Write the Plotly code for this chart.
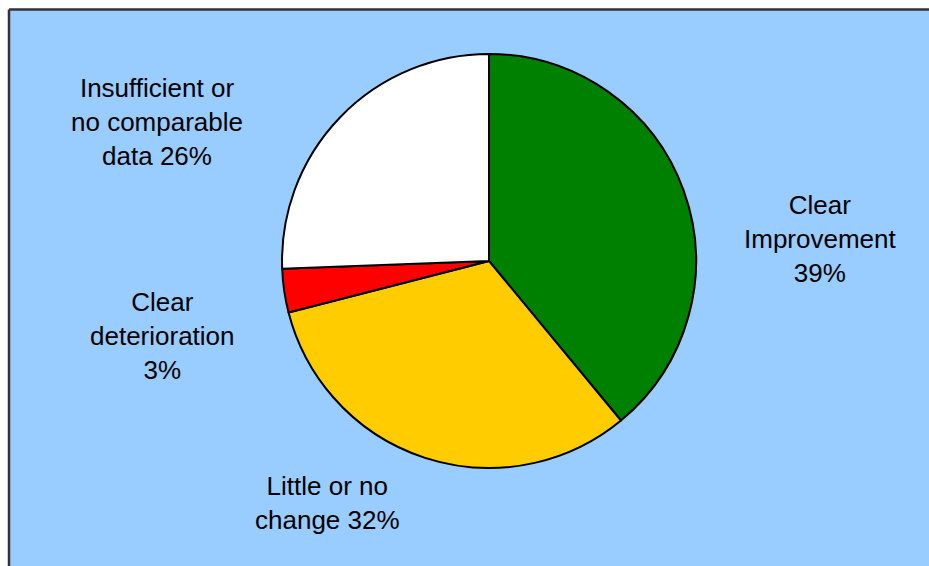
import plotly.graph_objects as go

categories = ["Clear<br>Improvement", "Little or no<br>change", "Clear<br>deterioration", "Insufficient or<br>no comparable<br>data"]
values = [39, 32, 3.4, 25.6]
colors = ["#008000", "#FFCC00", "#FF0000", "#FFFFFF"]
label_fmt = ["{c}<br>{p}%", "{c} {p}%", "{c}<br>{p}%", "{c} {p}%"]
label_pos = [(0.8827, 0.5777), (0.352, 0.1113), (0.1744, 0.4064), (0.1685, 0.7845)]

total = sum(values)
fig = go.Figure(go.Pie(
    values=values,
    labels=[c.replace("<br>", " ") for c in categories],
    marker=dict(colors=colors, line=dict(color="#000000", width=2)),
    sort=False,
    direction="clockwise",
    rotation=0,
    textinfo="none",
    hoverinfo="label+percent",
    domain=dict(x=[0.3036, 0.7492], y=[0.1731, 0.9046]),
    showlegend=False,
))

for c, v, fmt, (x, y) in zip(categories, values, label_fmt, label_pos):
    fig.add_annotation(
        x=x, y=y, xref="paper", yref="paper",
        text=fmt.format(c=c, p=round(v / total * 100)),
        showarrow=False, xanchor="center", yanchor="middle",
        font=dict(family="Liberation Sans, Arial, sans-serif", size=26, color="#000000"),
        align="center",
    )

top = 1 - 9.5 / 566
left = 9 / 929
# white margins outside the panel (left and top)
fig.add_shape(type="rect", xref="paper", yref="paper", x0=0, x1=left, y0=0, y1=1,
              fillcolor="#FFFFFF", line=dict(width=0), layer="below")
fig.add_shape(type="rect", xref="paper", yref="paper", x0=0, x1=1, y0=top, y1=1,
              fillcolor="#FFFFFF", line=dict(width=0), layer="below")
# left and top border lines
fig.add_shape(type="line", xref="paper", yref="paper", x0=left, x1=left, y0=0, y1=top,
              line=dict(color="#333333", width=2.5), layer="below")
fig.add_shape(type="line", xref="paper", yref="paper", x0=left, x1=1, y0=top, y1=top,
              line=dict(color="#333333", width=2.5), layer="below")

fig.update_layout(
    width=929, height=566,
    margin=dict(l=0, r=0, t=0, b=0),
    paper_bgcolor="#99CCFF",
    plot_bgcolor="#99CCFF",
)

fig.write_html("out.html", config={"displayModeBar": False})
